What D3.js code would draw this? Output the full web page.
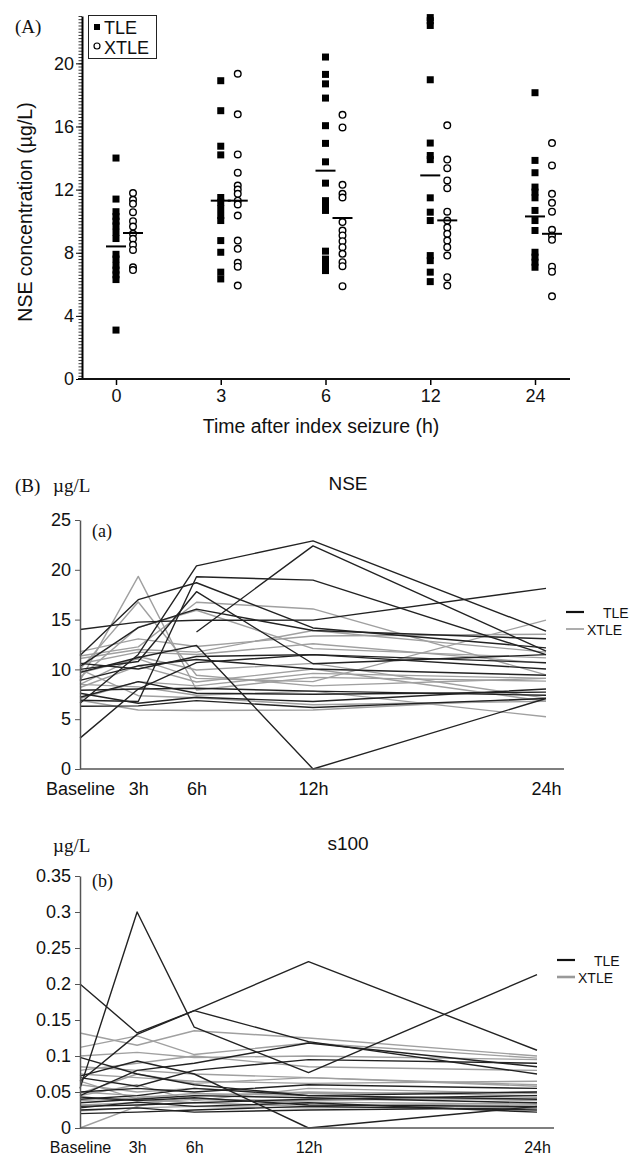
<!DOCTYPE html>
<html>
<head>
<meta charset="utf-8">
<script src="https://cdn.jsdelivr.net/npm/d3@7"></script>
<style>
  body { margin: 0; background: #fff; }
  text { font-family: "Liberation Sans", Arial, sans-serif; fill: #111; }
  .serif { font-family: "Liberation Serif", "Times New Roman", serif; }
</style>
</head>
<body>
<div id="chart"></div>
<script>
// ---- data ----

// panel A: NSE scatter by time after seizure
var timesA = ["0", "3", "6", "12", "24"];
var tleA = [
  [14.0, 11.4, 10.6, 10.3, 10.0, 9.7, 9.3, 8.9, 7.9, 7.6, 7.2, 6.9, 6.6, 6.3, 3.1],
  [18.9, 17.0, 14.75, 14.2, 11.5, 11.2, 10.8, 10.36, 10.04, 8.77, 8.03, 6.77, 6.34],
  [20.4, 19.3, 18.7, 17.8, 16.05, 14.93, 13.76, 12.41, 11.3, 11.0, 10.68, 8.1, 7.6, 7.2, 6.87],
  [22.9, 22.7, 22.4, 18.96, 14.95, 14.16, 13.9, 11.48, 10.57, 10.04, 7.82, 7.5, 6.77, 6.17],
  [18.14, 13.85, 13.07, 12.16, 11.84, 11.48, 10.68, 10.04, 9.41, 8.03, 7.72, 7.4, 7.08]
];
var xtleA = [
  [11.78, 11.35, 11.1, 10.57, 10.0, 9.66, 9.2, 8.88, 8.5, 8.18, 7.08, 6.9],
  [19.34, 16.77, 14.23, 13.07, 12.26, 12.0, 11.73, 11.3, 11.06, 10.36, 8.77, 8.25, 7.36, 7.12, 5.92],
  [16.74, 15.94, 12.3, 11.73, 11.5, 9.94, 9.41, 9.1, 8.73, 8.35, 7.93, 7.4, 7.15, 5.88],
  [16.07, 13.9, 13.36, 12.58, 12.09, 10.6, 10.04, 9.6, 9.2, 8.77, 8.35, 7.82, 6.45, 5.92],
  [14.95, 13.53, 11.73, 11.16, 10.6, 9.45, 9.1, 8.82, 7.12, 6.8, 5.24]
];
var tleMed = [8.4, 11.3, 13.2, 12.9, 10.3];
var xtleMed = [9.25, 11.3, 10.2, 10.05, 9.2];
var ticksA = [0, 4, 8, 12, 16, 20];

// panel B: individual courses
var hours = [0, 3, 6, 12, 24];
var hourLabels = ["Baseline", "3h", "6h", "12h", "24h"];

var nseTle = [
  [14.0, 14.75, 14.93, 14.95, 18.14],
  [6.6, 11.5, 20.4, 22.9, 13.85],
  [null, null, 13.76, 22.4, 11.84],
  [6.9, 6.77, 19.3, 18.96, 11.48],
  [11.4, 17.0, 18.7, 14.16, 12.16],
  [10.0, 10.8, 17.8, 10.57, 11.48],
  [9.7, 11.2, 12.41, 0, 7.08],
  [3.1, 8.03, 10.68, 11.48, 10.04],
  [10.3, 14.2, 16.05, 13.9, 13.07],
  [8.9, 10.36, 11.0, 10.04, 9.41],
  [7.9, 8.03, 8.1, 7.82, 7.4],
  [6.3, 6.34, 6.87, 6.17, 7.08],
  [7.2, 8.77, 7.6, 7.5, 7.72],
  [10.6, 10.04, 11.3, 11.48, 10.68],
  [7.6, 6.6, 7.2, 6.77, 8.03]
];
var nseXtle = [
  [8.88, 19.34, 7.93, 9.2, 8.82],
  [10.0, 16.77, 9.41, 8.35, 9.1],
  [11.35, 12.26, 16.74, 16.07, 9.45],
  [9.2, 14.23, 15.94, 12.09, 11.16],
  [11.78, 13.07, 12.3, 13.36, 13.53],
  [11.1, 12.0, 11.73, 13.9, 11.73],
  [10.57, 11.73, 11.5, 12.58, 10.6],
  [8.5, 11.3, 9.94, 10.6, 7.12],
  [9.66, 11.06, 9.1, 8.77, 14.95],
  [8.18, 10.36, 8.73, 10.04, 6.8],
  [7.08, 8.77, 8.35, 9.6, 9.1],
  [6.9, 5.92, 5.88, 5.92, 7.12],
  [8.5, 8.25, 7.4, 7.82, 5.24],
  [10.0, 7.36, 7.15, 6.45, 6.8]
];
var ticksNse = [0, 5, 10, 15, 20, 25];

var s100Tle = [
  [0.055, 0.300, 0.140, 0.077, 0.213],
  [0.200, 0.132, 0.163, 0.120, 0.075],
  [0.065, 0.130, 0.163, 0.231, 0.108],
  [0.072, 0.093, 0.075, 0.000, 0.030],
  [0.098, 0.075, 0.060, 0.045, 0.040],
  [0.045, 0.080, 0.090, 0.118, 0.085],
  [0.070, 0.058, 0.080, 0.095, 0.090],
  [0.040, 0.045, 0.055, 0.045, 0.050],
  [0.035, 0.040, 0.045, 0.042, 0.035],
  [0.030, 0.032, 0.035, 0.040, 0.045],
  [0.025, 0.028, 0.022, 0.025, 0.028],
  [0.020, 0.022, 0.025, 0.030, 0.025],
  [0.050, 0.055, 0.050, 0.060, 0.055],
  [0.043, 0.038, 0.042, 0.032, 0.030],
  [0.028, 0.036, 0.030, 0.035, 0.022]
];
var s100Xtle = [
  [0.132, 0.115, 0.135, 0.125, 0.100],
  [0.112, 0.128, 0.102, 0.118, 0.097],
  [0.000, 0.030, 0.045, 0.050, 0.045],
  [0.100, 0.105, 0.098, 0.100, 0.095],
  [0.085, 0.080, 0.075, 0.070, 0.060],
  [0.075, 0.070, 0.065, 0.062, 0.065],
  [0.060, 0.050, 0.055, 0.048, 0.050],
  [0.050, 0.045, 0.040, 0.038, 0.042],
  [0.045, 0.060, 0.038, 0.055, 0.048],
  [0.038, 0.042, 0.048, 0.045, 0.038],
  [0.032, 0.035, 0.040, 0.036, 0.033],
  [0.024, 0.028, 0.030, 0.028, 0.030],
  [0.080, 0.090, 0.100, 0.085, 0.080],
  [0.048, 0.075, 0.062, 0.070, 0.058],
  [0.065, 0.040, 0.035, 0.030, 0.035]
];
var ticksS100 = [0, 0.05, 0.1, 0.15, 0.2, 0.25, 0.3, 0.35];

var w = 634, h = 1157;
var svg = d3.select("#chart").append("svg")
    .attr("width", w)
    .attr("height", h);

// ---- panel A ----

var xA = d3.scalePoint().domain(timesA).range([116, 535]);
var yA = d3.scaleLinear().domain([0, 23]).range([379, 16]);
var off = 17;

// minor ruler ticks on y axis
svg.append("g")
    .attr("transform", "translate(82,0)")
    .call(d3.axisLeft(yA).tickValues(d3.range(0, 23.01, 0.2)).tickSize(3.5).tickFormat(""))
    .call(function(g) { g.select(".domain").remove(); })
    .selectAll("line").attr("stroke", "#222").attr("stroke-width", 0.9);

var yAxisA = svg.append("g")
    .attr("transform", "translate(82,0)")
    .call(d3.axisLeft(yA).tickValues(ticksA).tickSize(6).tickPadding(2).tickSizeOuter(0));
yAxisA.select(".domain").attr("stroke-width", 2);
yAxisA.selectAll("text").attr("font-size", "18px").attr("fill", "#111");

var xAxisA = svg.append("g")
    .attr("transform", "translate(0,379)")
    .call(d3.axisBottom(xA).tickSize(6).tickPadding(4));
xAxisA.select(".domain").remove();
xAxisA.selectAll("line").attr("stroke-width", 1.5);
xAxisA.selectAll("text").attr("font-size", "18px").attr("fill", "#111");
svg.append("line")
    .attr("x1", 78).attr("x2", 570)
    .attr("y1", 379).attr("y2", 379)
    .attr("stroke", "#111").attr("stroke-width", 2);

// points
timesA.forEach(function(t, i) {
  svg.append("g").selectAll("rect")
    .data(tleA[i]).enter().append("rect")
      .attr("x", xA(t) - 3.5)
      .attr("y", function(d) { return yA(d) - 3.5; })
      .attr("width", 7).attr("height", 7)
      .attr("fill", "#000");
  svg.append("g").selectAll("circle")
    .data(xtleA[i]).enter().append("circle")
      .attr("cx", xA(t) + off)
      .attr("cy", function(d) { return yA(d); })
      .attr("r", 3.3)
      .attr("fill", "#fff").attr("stroke", "#000").attr("stroke-width", 1.4);
  // medians
  svg.append("line")
    .attr("x1", xA(t) - 10).attr("x2", xA(t) + 10)
    .attr("y1", yA(tleMed[i])).attr("y2", yA(tleMed[i]))
    .attr("stroke", "#000").attr("stroke-width", 2);
  svg.append("line")
    .attr("x1", xA(t) + off - 10).attr("x2", xA(t) + off + 10)
    .attr("y1", yA(xtleMed[i])).attr("y2", yA(xtleMed[i]))
    .attr("stroke", "#000").attr("stroke-width", 2);
});

// legend
svg.append("rect")
    .attr("x", 88.5).attr("y", 15.5).attr("width", 68).attr("height", 43)
    .attr("fill", "#fff").attr("stroke", "#222").attr("stroke-width", 1);
svg.append("rect").attr("x", 94).attr("y", 24).attr("width", 6).attr("height", 6).attr("fill", "#000");
svg.append("circle").attr("cx", 97).attr("cy", 46).attr("r", 3).attr("fill", "#fff")
    .attr("stroke", "#000").attr("stroke-width", 1.2);
render_text("TLE", 104, 34, "18px");
render_text("XTLE", 104, 54, "18px");

render_text("(A)", 15, 33, "19px", "serif");
svg.append("text")
    .attr("transform", "translate(32,212) rotate(-90)")
    .attr("text-anchor", "middle")
    .attr("font-size", "19.5px")
    .text("NSE concentration (\u00b5g/L)");
svg.append("text")
    .attr("x", 321).attr("y", 433)
    .attr("text-anchor", "middle")
    .attr("font-size", "19.5px")
    .text("Time after index seizure (h)");

// ---- panel B ----

function linePanel(opt) {
  var x = d3.scaleLinear().domain([0, 24]).range([80, opt.xEnd]);
  var y = d3.scaleLinear().domain([0, opt.yMax]).range([opt.y0, opt.yTop]);

  var line = d3.line()
      .defined(function(d) { return d.v !== null; })
      .x(function(d) { return x(d.t); })
      .y(function(d) { return y(d.v); });

  function draw(series, color, width) {
    svg.append("g").selectAll("path")
      .data(series).enter().append("path")
        .attr("d", function(s) {
          return line(s.map(function(v, i) { return {t: hours[i], v: v}; }));
        })
        .attr("fill", "none")
        .attr("stroke", color)
        .attr("stroke-width", width)
        .attr("stroke-linejoin", "round");
  }
  draw(opt.xtle, "#a0a0a0", 1.4);
  draw(opt.tle, "#222", 1.4);

  var ya = svg.append("g")
      .attr("transform", "translate(80,0)")
      .call(d3.axisLeft(y).tickValues(opt.ticks).tickSize(5).tickPadding(4).tickSizeOuter(0)
        .tickFormat(d3.format("")));
  ya.select(".domain").attr("stroke", "#555").attr("stroke-width", 1.5);
  ya.selectAll("line").attr("stroke", "#555");
  ya.selectAll("text").attr("font-size", "18px").attr("fill", "#111");

  svg.append("line")
      .attr("x1", 80).attr("x2", opt.axisEnd)
      .attr("y1", opt.y0).attr("y2", opt.y0)
      .attr("stroke", "#555").attr("stroke-width", 1.5);

  var xa = svg.append("g")
      .attr("transform", "translate(0," + opt.y0 + ")")
      .call(d3.axisBottom(x).tickValues(hours).tickSize(0).tickPadding(opt.labPad)
        .tickFormat(function(d, i) { return hourLabels[i]; }));
  xa.select(".domain").remove();
  xa.selectAll("text").attr("font-size", opt.labSize).attr("fill", "#111");

  // legend
  svg.append("line").attr("x1", opt.legX).attr("x2", opt.legX + 18)
      .attr("y1", opt.legY).attr("y2", opt.legY)
      .attr("stroke", "#111").attr("stroke-width", 2.2);
  svg.append("line").attr("x1", opt.legX).attr("x2", opt.legX + 18)
      .attr("y1", opt.legY + 17).attr("y2", opt.legY + 17)
      .attr("stroke", "#999").attr("stroke-width", opt.grayW);
  render_text("TLE", opt.legX + 37, opt.legY + 6, "14px");
  render_text("XTLE", opt.legX + 21, opt.legY + 23, "14px");

  render_text(opt.title, 348, opt.titleY, "19px", null, "middle");
  render_text("\u00b5g/L", 53, opt.titleY + 2, "19px", "serif");
  render_text(opt.tag, 92, opt.tagY, "18px", "serif");
}

linePanel({
  tle: nseTle, xtle: nseXtle, ticks: ticksNse, yMax: 25,
  y0: 769, yTop: 520, xEnd: 546, axisEnd: 564, labPad: 13, labSize: "18px",
  legX: 566, legY: 612, grayW: 1.6,
  title: "NSE", titleY: 490, tag: "(a)", tagY: 537
});
render_text("(B)", 15, 492, "19px", "serif");

linePanel({
  tle: s100Tle, xtle: s100Xtle, ticks: ticksS100, yMax: 0.35,
  y0: 1128, yTop: 876, xEnd: 537, axisEnd: 554, labPad: 13.5, labSize: "16px",
  legX: 557, legY: 960, grayW: 2.6,
  title: "s100", titleY: 850, tag: "(b)", tagY: 887
});

function render_text(text, x, y, size, cls, anchor) {
  svg.append("text")
      .attr("class", cls || null)
      .attr("x", x)
      .attr("y", y)
      .attr("font-size", size)
      .attr("text-anchor", anchor || "start")
      .text(text);
}
</script>
</body>
</html>
